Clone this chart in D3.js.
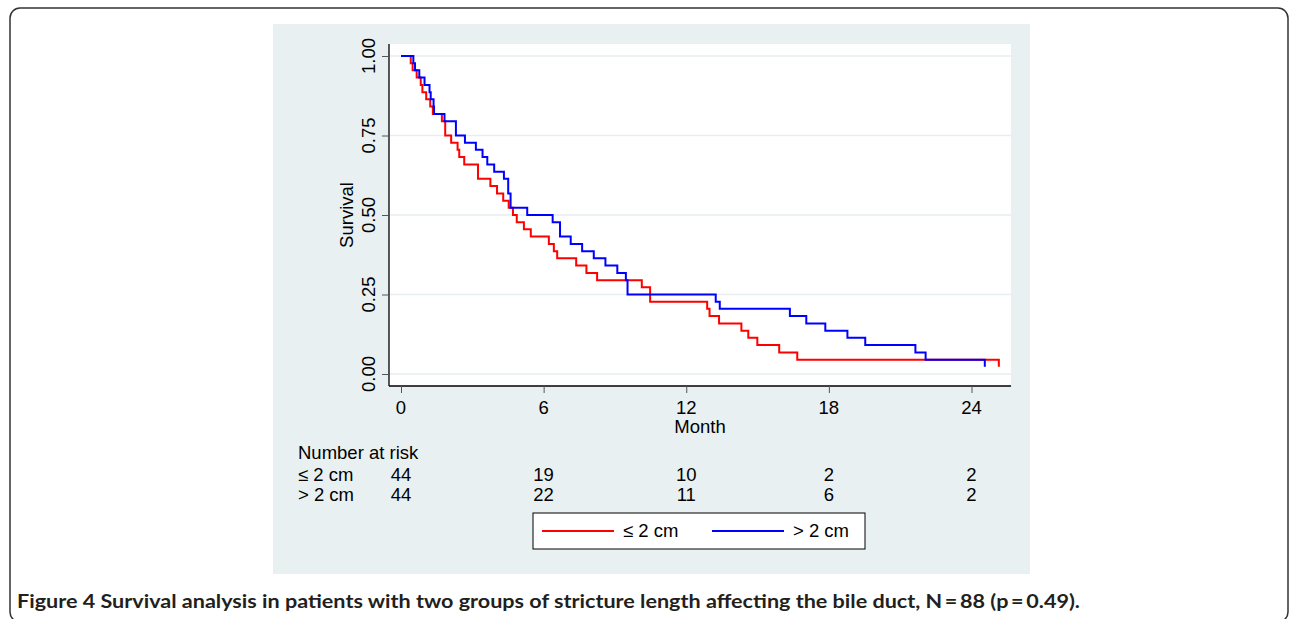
<!DOCTYPE html>
<html>
<head>
<meta charset="utf-8">
<script src="https://cdn.jsdelivr.net/npm/d3@7"></script>
<style>
  body { margin: 0; background: #fff; }
  text { font-family: "Liberation Sans", Arial, sans-serif; fill: #000; }
</style>
</head>
<body>
<div id="chart"></div>
<script>
// Kaplan-Meier steps: [month, survival after drop]
var shortTimes = [0, 0.41, 0.49, 0.66, 0.83, 0.90, 1.06, 1.23, 1.34, 1.72, 1.86, 2.11, 2.38, 2.45, 2.66, 3.24, 3.76, 4.04, 4.30, 4.53, 4.71, 4.87, 5.17, 5.46, 6.22, 6.43, 6.57, 7.37, 7.80, 8.25, 10.13, 10.48, 12.88, 12.98, 13.38, 14.32, 14.61, 14.99, 15.91, 16.67, 25.15];
var shortSurv  = [1, 0.977, 0.955, 0.932, 0.909, 0.886, 0.864, 0.841, 0.818, 0.795, 0.75, 0.727, 0.705, 0.682, 0.659, 0.614, 0.591, 0.568, 0.545, 0.523, 0.5, 0.477, 0.455, 0.432, 0.409, 0.386, 0.364, 0.341, 0.318, 0.295, 0.273, 0.227, 0.205, 0.182, 0.159, 0.136, 0.114, 0.091, 0.068, 0.045, 0.023];

var longTimes = [0, 0.52, 0.59, 0.77, 0.99, 1.20, 1.25, 1.37, 1.39, 1.83, 2.31, 2.69, 3.15, 3.43, 3.63, 3.92, 4.33, 4.51, 4.61, 5.31, 6.38, 6.69, 7.14, 7.62, 8.11, 8.60, 9.10, 9.46, 9.53, 13.24, 13.41, 16.36, 17.05, 17.85, 18.78, 19.53, 21.64, 22.07, 24.56];
var longSurv  = [1, 0.977, 0.955, 0.932, 0.909, 0.886, 0.864, 0.841, 0.818, 0.795, 0.75, 0.727, 0.705, 0.682, 0.659, 0.636, 0.614, 0.568, 0.523, 0.5, 0.477, 0.432, 0.409, 0.386, 0.364, 0.341, 0.318, 0.295, 0.25, 0.227, 0.205, 0.182, 0.159, 0.136, 0.114, 0.091, 0.068, 0.045, 0.023];

var xTicks = [0, 6, 12, 18, 24];
var yTicks = [0, 0.25, 0.5, 0.75, 1];
var yTickLabels = ["0.00", "0.25", "0.50", "0.75", "1.00"];

var groupNames = ["\u2264 2 cm", "> 2 cm"];
var groupColors = ["#ff0000", "#0000ff"];
var riskShort = [44, 19, 10, 2, 2];
var riskLong = [44, 22, 11, 6, 2];

var caption = "Figure 4 Survival analysis in patients with two groups of stricture length affecting the bile duct, N\u2009=\u200988 (p\u2009=\u20090.49).";

var W = 1290, H = 619;
var fs = "18.5px";
var svg = d3.select("#chart").append("svg")
    .attr("width", W)
    .attr("height", H);

// outer rounded frame of the figure
svg.append("rect")
    .attr("x", 10).attr("y", 8)
    .attr("width", 1278).attr("height", 614)
    .attr("rx", 10)
    .attr("fill", "none")
    .attr("stroke", "#333")
    .attr("stroke-width", 1.5);

// graph background
svg.append("rect")
    .attr("x", 273).attr("y", 24)
    .attr("width", 757).attr("height", 550)
    .attr("fill", "#e9f0f2");

var plot = {left: 389, right: 1011, top: 44, bottom: 386};

svg.append("rect")
    .attr("x", plot.left).attr("y", plot.top)
    .attr("width", plot.right - plot.left)
    .attr("height", plot.bottom - plot.top)
    .attr("fill", "#fff");

var x = d3.scaleLinear().domain([0, 24]).range([401, 971.5]);
var y = d3.scaleLinear().domain([0, 1]).range([374, 56]);

// grid lines
svg.append("g")
    .selectAll("line")
    .data(yTicks)
    .enter()
    .append("line")
    .attr("x1", plot.left).attr("x2", plot.right)
    .attr("y1", d => y(d)).attr("y2", d => y(d))
    .attr("stroke", "#e6eef1")
    .attr("stroke-width", 1.5);

// y axis
var yAxis = svg.append("g")
    .attr("transform", "translate(" + plot.left + ",0)")
    .call(d3.axisLeft(y).tickValues(yTicks).tickSize(7).tickFormat(""));
yAxis.select(".domain").attr("d", "M0," + plot.top + "V" + plot.bottom).attr("stroke", "#000").attr("stroke-width", 1.3);
yAxis.selectAll(".tick line").attr("stroke", "#555");

svg.append("g")
    .selectAll("text")
    .data(yTicks)
    .enter()
    .append("text")
    .attr("transform", (d, i) => "translate(375," + y(d) + ") rotate(-90)")
    .attr("text-anchor", "middle")
    .style("font-size", fs)
    .text((d, i) => yTickLabels[i]);

svg.append("text")
    .attr("transform", "translate(353,215) rotate(-90)")
    .attr("text-anchor", "middle")
    .style("font-size", fs)
    .text("Survival");

// x axis
var xAxis = svg.append("g")
    .attr("transform", "translate(0," + plot.bottom + ")")
    .call(d3.axisBottom(x).tickValues(xTicks).tickSize(7).tickFormat(""));
xAxis.select(".domain").attr("d", "M" + plot.left + ",0H" + plot.right).attr("stroke", "#000").attr("stroke-width", 1.3);
xAxis.selectAll(".tick line").attr("stroke", "#555");

svg.append("g")
    .selectAll("text")
    .data(xTicks)
    .enter()
    .append("text")
    .attr("x", d => x(d))
    .attr("y", 414)
    .attr("text-anchor", "middle")
    .style("font-size", fs)
    .text(d => d);

svg.append("text")
    .attr("x", (plot.left + plot.right) / 2)
    .attr("y", 433)
    .attr("text-anchor", "middle")
    .style("font-size", fs)
    .text("Month");

// survival curves
var line = d3.line()
    .x(d => x(d[0]))
    .y(d => y(d[1]))
    .curve(d3.curveStepAfter);

var curves = [d3.zip(shortTimes, shortSurv), d3.zip(longTimes, longSurv)];
svg.append("g")
    .selectAll("path")
    .data(curves)
    .enter()
    .append("path")
    .attr("d", line)
    .attr("fill", "none")
    .attr("stroke", (d, i) => groupColors[i])
    .attr("stroke-width", 2);

// number at risk table
svg.append("text")
    .attr("x", 298).attr("y", 459)
    .style("font-size", fs)
    .text("Number at risk");

[riskShort, riskLong].forEach(function(row, i) {
    var yy = 481 + i * 20;
    svg.append("text")
        .attr("x", 298).attr("y", yy)
        .style("font-size", fs)
        .text(groupNames[i]);
    svg.append("g")
        .selectAll("text")
        .data(row)
        .enter()
        .append("text")
        .attr("x", (d, j) => x(xTicks[j]))
        .attr("y", yy)
        .attr("text-anchor", "middle")
        .style("font-size", fs)
        .text(d => d);
});

// legend
var legend = svg.append("g");
legend.append("rect")
    .attr("x", 533).attr("y", 513)
    .attr("width", 332).attr("height", 36)
    .attr("fill", "#fff")
    .attr("stroke", "#000")
    .attr("stroke-width", 1);

var legX = [542, 712];
groupNames.forEach(function(name, i) {
    legend.append("line")
        .attr("x1", legX[i]).attr("x2", legX[i] + 72)
        .attr("y1", 531).attr("y2", 531)
        .attr("stroke", groupColors[i])
        .attr("stroke-width", 2);
    legend.append("text")
        .attr("x", legX[i] + 81).attr("y", 537)
        .style("font-size", fs)
        .text(name);
});

// caption
svg.append("text")
    .attr("x", 17).attr("y", 608)
    .attr("textLength", 1063)
    .attr("lengthAdjust", "spacingAndGlyphs")
    .style("font-family", "Lato, 'Noto Sans', sans-serif")
    .style("font-weight", "700")
    .style("font-size", "18.5px")
    .style("fill", "#231f20")
    .text(caption);
</script>
</body>
</html>
